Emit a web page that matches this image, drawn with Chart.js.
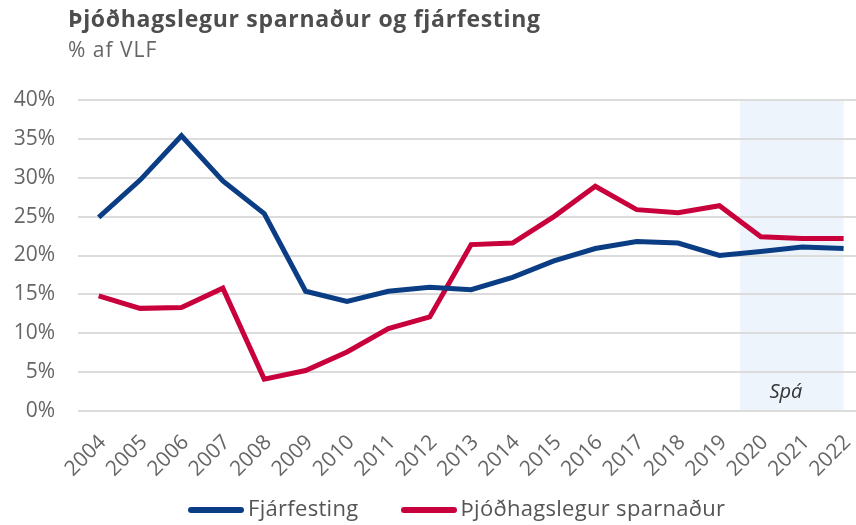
<!DOCTYPE html>
<html lang="is">
<head>
<meta charset="UTF-8">
<title>Þjóðhagslegur sparnaður og fjárfesting</title>
<script src="https://cdn.jsdelivr.net/npm/chart.js@4"></script>
<style>
  html, body { margin: 0; padding: 0; background: #fff; }
  .wrap { position: relative; width: 856px; height: 525px; font-family: "Open Sans", sans-serif; }
  .title { position: absolute; left: 68px; top: 2px; font-size: 23px; font-weight: 700; letter-spacing: 0.7px; color: #4d4d4d; white-space: nowrap; }
  .sub { position: absolute; left: 68px; top: 35px; font-size: 21px; letter-spacing: 1px; color: #666; white-space: nowrap; }
  canvas { position: absolute; left: 0; top: 0; }
  .legend { position: absolute; left: 188px; top: 493px; display: flex; gap: 42px; font-size: 22px; letter-spacing: 0.3px; line-height: 28px; color: #555; }
  .legend .item { display: flex; align-items: center; white-space: nowrap; }
  .legend .sw { display: inline-block; width: 56px; height: 6px; border-radius: 3px; margin-right: 4px; position: relative; top: 3px; }
</style>
</head>
<body>
<div class="wrap">
  <canvas id="chart" width="856" height="525"></canvas>
  <div class="title">Þjóðhagslegur sparnaður og fjárfesting</div>
  <div class="sub">% af VLF</div>
  <div class="legend" id="legend"></div>
</div>
<script>
  const years = [2004, 2005, 2006, 2007, 2008, 2009, 2010, 2011, 2012, 2013,
                 2014, 2015, 2016, 2017, 2018, 2019, 2020, 2021, 2022];
  const fjarfesting = [24.9, 29.7, 35.4, 29.6, 25.4, 15.4, 14.1, 15.4, 15.9, 15.6,
                       17.2, 19.3, 20.9, 21.8, 21.6, 20.0, 20.5, 21.1, 20.9];
  const sparnadur = [14.8, 13.2, 13.3, 15.8, 4.1, 5.2, 7.6, 10.6, 12.1, 21.4,
                     21.6, 25.0, 28.9, 25.9, 25.5, 26.4, 22.4, 22.2, 22.2];
  const yTicks = [0, 5, 10, 15, 20, 25, 30, 35, 40];
  const forecastStart = 2020;
  const forecastLabel = 'Spá';

  const FONT = '"Open Sans", sans-serif';

  // skyggt spásvæði + texti
  const forecastShade = {
    id: 'forecastShade',
    beforeDraw(chart) {
      const { ctx, chartArea, scales: { x } } = chart;
      const x0 = x.getPixelForValue(forecastStart - 0.5);
      const x1 = x.getPixelForValue(years[years.length - 1]);
      ctx.save();
      ctx.fillStyle = '#eef4fc';
      ctx.fillRect(x0, chartArea.top, x1 - x0, chartArea.bottom - chartArea.top);
      ctx.restore();
    },
    afterDraw(chart) {
      const { ctx, chartArea, scales: { x } } = chart;
      const x0 = x.getPixelForValue(forecastStart - 0.5);
      const x1 = x.getPixelForValue(years[years.length - 1]);
      ctx.save();
      ctx.font = 'italic 20px ' + FONT;
      ctx.fillStyle = '#333';
      ctx.textAlign = 'center';
      ctx.fillText(forecastLabel, (x0 + x1) / 2 - 6, chartArea.bottom - 13);
      ctx.restore();
    }
  };

  const toPoints = arr => arr.map((v, i) => ({ x: years[i], y: v }));

  const chart = new Chart(document.getElementById('chart'), {
    type: 'line',
    data: {
      datasets: [
        {
          label: 'Fjárfesting',
          data: toPoints(fjarfesting),
          borderColor: '#0a3d84',
          borderWidth: 5,
          pointRadius: 0,
          tension: 0
        },
        {
          label: 'Þjóðhagslegur sparnaður',
          data: toPoints(sparnadur),
          borderColor: '#c8003b',
          borderWidth: 5,
          pointRadius: 0,
          tension: 0
        }
      ]
    },
    options: {
      responsive: false,
      animation: false,
      layout: { padding: { top: 100, left: 10, right: 0, bottom: 36 } },
      scales: {
        x: {
          type: 'linear',
          min: 2003.5,
          max: 2022.3,
          afterBuildTicks: s => { s.ticks = years.map(v => ({ value: v })); },
          afterFit: s => { s.paddingLeft = 0; s.paddingRight = 0; s.height = 78; },
          grid: { display: false, drawTicks: false },
          border: { display: false },
          ticks: {
            autoSkip: false,
            minRotation: 45,
            maxRotation: 45,
            padding: 19,
            labelOffset: 4,
            color: '#666',
            font: { family: FONT, size: 21 },
            callback: v => String(v)
          }
        },
        y: {
          min: 0,
          max: 40,
          afterBuildTicks: s => { s.ticks = yTicks.map(v => ({ value: v })); },
          afterFit: s => { s.width = 68; },
          grid: { color: '#dcdcdc', lineWidth: 2, drawTicks: false },
          border: { display: false },
          ticks: {
            padding: 23,
            color: '#666',
            font: { family: FONT, size: 21 },
            callback: v => v + '%'
          }
        }
      },
      plugins: {
        legend: { display: false },
        tooltip: { enabled: false }
      }
    },
    plugins: [forecastShade]
  });

  // skýringar undir myndinni
  document.getElementById('legend').innerHTML = chart.data.datasets.map(d =>
    `<span class="item"><span class="sw" style="background:${d.borderColor}"></span>${d.label}</span>`
  ).join('');
</script>
</body>
</html>
